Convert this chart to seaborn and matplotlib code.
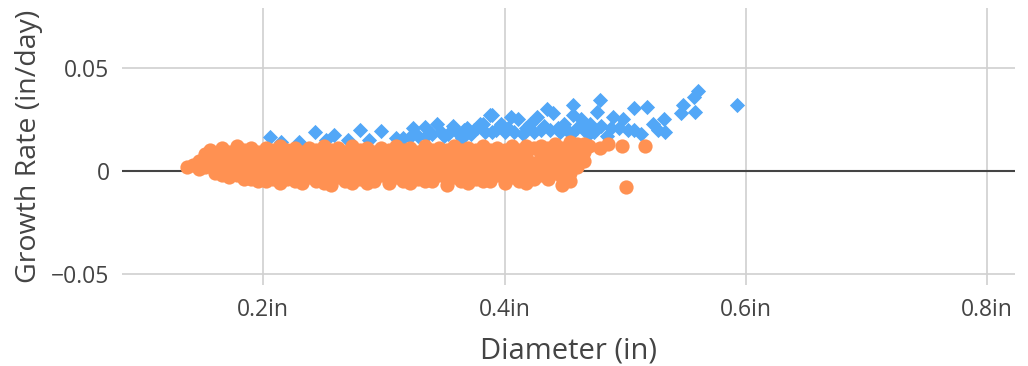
import matplotlib
matplotlib.use("Agg")
import matplotlib.pyplot as plt
import matplotlib.ticker as mticker
import pandas as pd
import seaborn as sns

# ------------------------------
# Data
# ------------------------------
# blue diamonds: (diameter in, growth rate in/day)
blue_diam = [0.206, 0.230, 0.243, 0.259, 0.270, 0.280, 0.298, 0.310, 0.322, 0.324,
             0.334, 0.335, 0.344, 0.350, 0.357, 0.365, 0.366, 0.369, 0.377, 0.380,
             0.382, 0.388, 0.390, 0.390, 0.397, 0.400, 0.405, 0.411, 0.415, 0.421,
             0.427, 0.430, 0.435, 0.440, 0.449, 0.455, 0.457, 0.457, 0.460, 0.463,
             0.470, 0.471, 0.477, 0.479, 0.480, 0.485, 0.490, 0.495, 0.498, 0.507,
             0.507, 0.513, 0.518, 0.523, 0.527, 0.532, 0.533, 0.546, 0.548, 0.557,
             0.558, 0.560, 0.593,
             0.215, 0.252, 0.288, 0.316, 0.328, 0.340, 0.347, 0.353, 0.361, 0.372,
             0.375, 0.384, 0.393, 0.403, 0.408, 0.418, 0.424, 0.433, 0.438, 0.444,
             0.446, 0.452, 0.466, 0.474, 0.488, 0.502]
blue_rate = [0.0165, 0.014, 0.019, 0.0175, 0.015, 0.020, 0.0195, 0.016, 0.0165, 0.021,
             0.0214, 0.017, 0.023, 0.017, 0.022, 0.016, 0.020, 0.021, 0.021, 0.023,
             0.023, 0.027, 0.027, 0.019, 0.023, 0.019, 0.026, 0.025, 0.018, 0.023,
             0.026, 0.020, 0.030, 0.028, 0.023, 0.018, 0.032, 0.027, 0.021, 0.025,
             0.018, 0.023, 0.0286, 0.0345, 0.022, 0.017, 0.026, 0.021, 0.025, 0.0306,
             0.020, 0.018, 0.031, 0.023, 0.020, 0.025, 0.019, 0.028, 0.032, 0.036,
             0.0286, 0.039, 0.032,
             0.014, 0.015, 0.015, 0.016, 0.017, 0.018, 0.019, 0.018, 0.019, 0.018,
             0.020, 0.019, 0.020, 0.021, 0.019, 0.021, 0.019, 0.022, 0.020, 0.021,
             0.019, 0.020, 0.020, 0.019, 0.021, 0.020]

# orange circles, grouped by diameter column: (diameter, [growth rates])
orange_cols = [
    (0.137, [0.002]), (0.142, [0.003]), (0.147, [0.005, 0.001]), (0.152, [0.008, 0.002]),
    (0.156, [0.010, 0.004]), (0.160, [0.006, -0.001]),
    (0.166, [0.011, 0.006, 0.002, -0.002]), (0.172, [0.009, 0.004, 0.000, -0.003]),
    (0.178, [0.012, 0.007, 0.002, -0.002]), (0.184, [0.010, 0.005, 0.001, -0.004]),
    (0.190, [0.011, 0.007, 0.003, -0.001, -0.004]), (0.196, [0.009, 0.005, 0.000, -0.005]),
    (0.202, [0.011, 0.007, 0.002, -0.002, -0.005]), (0.208, [0.010, 0.004, 0.000, -0.004]),
    (0.214, [0.012, 0.008, 0.003, -0.001, -0.006]), (0.220, [0.010, 0.005, 0.001, -0.004]),
    (0.226, [0.011, 0.007, 0.002, -0.002, -0.005]), (0.232, [0.009, 0.004, 0.000, -0.006]),
    (0.238, [0.011, 0.006, 0.002, -0.003]), (0.244, [0.010, 0.005, -0.001, -0.005]),
    (0.250, [0.012, 0.007, 0.003, -0.002, -0.006]), (0.256, [0.010, 0.004, 0.000, -0.004, -0.007]),
    (0.262, [0.011, 0.006, 0.002, -0.003]), (0.268, [0.009, 0.005, -0.001, -0.005]),
    (0.274, [0.012, 0.007, 0.003, -0.002, -0.006]), (0.280, [0.010, 0.004, 0.000, -0.004]),
    (0.286, [0.011, 0.006, 0.002, -0.003, -0.006]), (0.292, [0.009, 0.005, -0.001, -0.005]),
    (0.298, [0.011, 0.007, 0.003, -0.002]), (0.304, [0.010, 0.004, 0.000, -0.004, -0.006]),
    (0.310, [0.012, 0.006, 0.002, -0.003]), (0.316, [0.010, 0.005, -0.001, -0.005]),
    (0.322, [0.011, 0.007, 0.003, -0.002, -0.006]), (0.328, [0.009, 0.004, 0.000, -0.004]),
    (0.334, [0.012, 0.006, 0.002, -0.003, -0.005]), (0.340, [0.010, 0.005, -0.001, -0.005]),
    (0.346, [0.011, 0.007, 0.003, -0.002]), (0.352, [0.010, 0.004, 0.000, -0.004, -0.007]),
    (0.358, [0.012, 0.006, 0.002, -0.003]), (0.364, [0.010, 0.005, -0.001, -0.005]),
    (0.370, [0.011, 0.007, 0.003, -0.002, -0.006]), (0.376, [0.010, 0.004, 0.000, -0.004]),
    (0.382, [0.012, 0.006, 0.002, -0.003, -0.005]), (0.388, [0.010, 0.005, -0.001, -0.005]),
    (0.394, [0.011, 0.007, 0.003, -0.002]), (0.400, [0.010, 0.004, 0.000, -0.004, -0.006]),
    (0.406, [0.012, 0.006, 0.002, -0.003]), (0.412, [0.010, 0.005, -0.001, -0.005]),
    (0.418, [0.012, 0.007, 0.003, -0.002, -0.006]), (0.424, [0.011, 0.004, 0.000, -0.004]),
    (0.430, [0.012, 0.008, 0.003, -0.002]), (0.436, [0.011, 0.006, 0.001, -0.004]),
    (0.442, [0.013, 0.008, 0.003, -0.001]), (0.448, [0.011, 0.006, 0.001, -0.003, -0.007]),
    (0.454, [0.014, 0.008, 0.004, -0.001, -0.005]), (0.460, [0.013, 0.007, 0.002]),
    (0.466, [0.013, 0.009, 0.005]), (0.470, [0.012]),
    (0.479, [0.011]), (0.486, [0.013]), (0.497, [0.012]), (0.501, [-0.008]), (0.516, [0.012]),
]

blue_color = "#52a7f7"
orange_color = "#ff9152"
text_color = "#444444"

x_ticks = [0.2, 0.4, 0.6, 0.8]
y_ticks = [-0.05, 0, 0.05]
y_tick_labels = ["\u22120.05", "0", "0.05"]

df_blue = pd.DataFrame({"diam": blue_diam, "rate": blue_rate})
df_orange = pd.DataFrame(
    [(d, r) for d, rates in orange_cols for r in rates], columns=["diam", "rate"]
)

# ------------------------------
# Plot
# ------------------------------
sns.set_style("white")
plt.rcParams["font.family"] = ["Open Sans", "DejaVu Sans"]

fig = plt.figure(figsize=(10.28, 3.66), dpi=100)
ax = fig.add_axes([122 / 1028, 1 - 285 / 366, (1015 - 122) / 1028, (285 - 8) / 366])

sns.scatterplot(data=df_blue, x="diam", y="rate", ax=ax, marker="D", s=60,
                color=blue_color, linewidth=0, zorder=3)
sns.scatterplot(data=df_orange, x="diam", y="rate", ax=ax, marker="o", s=105,
                color=orange_color, linewidth=0, zorder=4)

ax.set_xlim(0.083, 0.823)
ax.set_ylim(-0.0553, 0.079)
ax.set_xticks(x_ticks)
ax.xaxis.set_major_formatter(mticker.FuncFormatter(lambda v, p: f"{v:.1f}in"))
ax.set_yticks(y_ticks)
ax.set_yticklabels(y_tick_labels)

ax.grid(True, color="#d0d0d0", linewidth=1.2, zorder=0)
ax.axhline(0, color="#444444", linewidth=1.5, zorder=2)
for s in ax.spines.values():
    s.set_visible(False)

ax.tick_params(axis="both", length=0, labelsize=16.5, colors=text_color, pad=9)
ax.set_xlabel("Diameter (in)", fontsize=21, color=text_color, labelpad=11)
ax.set_ylabel("Growth Rate (in/day)", fontsize=20.5, color=text_color)
ax.yaxis.set_label_coords(-0.088, 0.5)

fig.savefig("out.png", dpi=100)
plt.close(fig)
